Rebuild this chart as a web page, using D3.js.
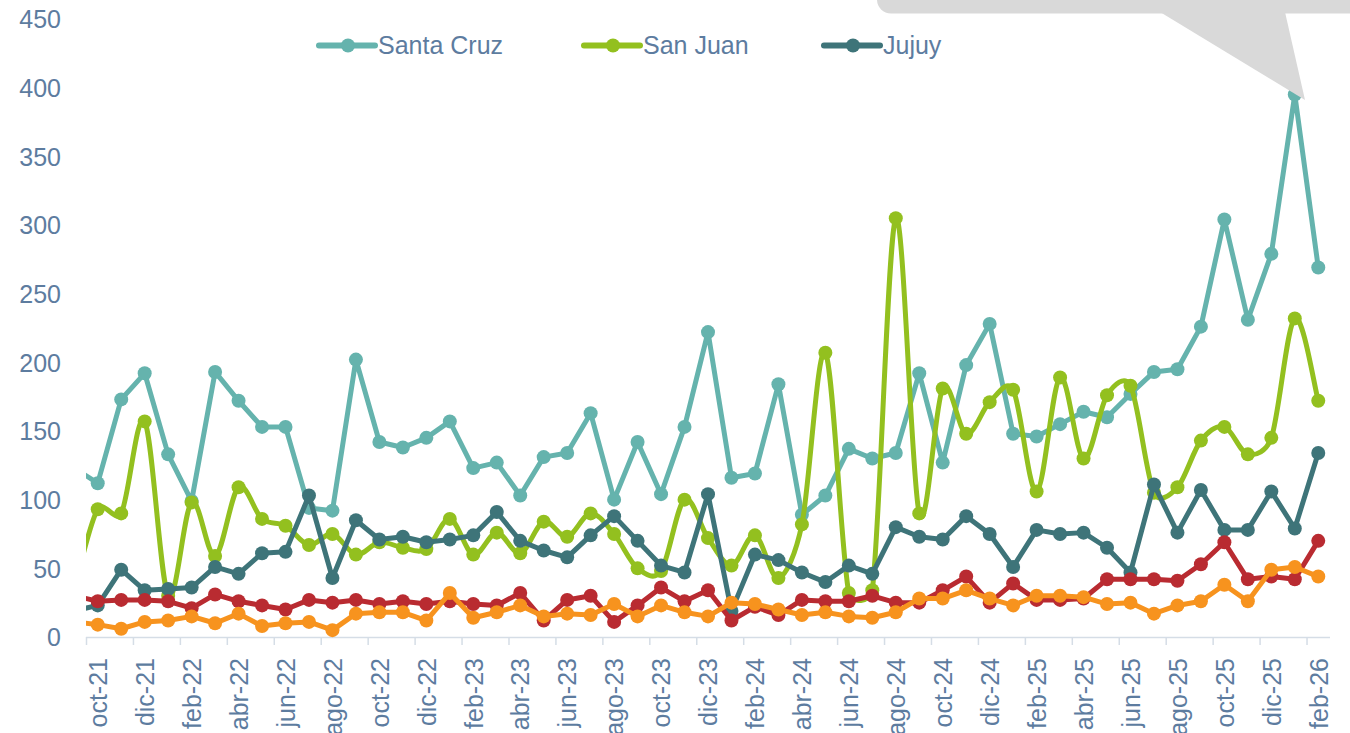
<!DOCTYPE html>
<html><head><meta charset="utf-8">
<script src="https://cdn.jsdelivr.net/npm/d3@7"></script>
<style>html,body{margin:0;padding:0;background:#fff;}svg{display:block;}</style>
</head><body>
<svg id="chart" width="1350" height="733"></svg>
<script>
// Months (first one, sep-21, lies just left of the visible axis and is clipped)
const meses = ["sep-21","oct-21","nov-21","dic-21",
 "ene-22","feb-22","mar-22","abr-22","may-22","jun-22","jul-22","ago-22","sep-22","oct-22","nov-22","dic-22",
 "ene-23","feb-23","mar-23","abr-23","may-23","jun-23","jul-23","ago-23","sep-23","oct-23","nov-23","dic-23",
 "ene-24","feb-24","mar-24","abr-24","may-24","jun-24","jul-24","ago-24","sep-24","oct-24","nov-24","dic-24",
 "ene-25","feb-25","mar-25","abr-25","may-25","jun-25","jul-25","ago-25","sep-25","oct-25","nov-25","dic-25",
 "ene-26","feb-26"];
const santaCruz = [123,112,173,192,
 133,99,193,172,153,153,94,92,202,142,138,145,
 157,123,127,103,131,134,163,100,142,104,153,222,
 116,119,184,89,103,137,130,134,192,127,198,228,
 148,146,155,164,160,177,193,195,226,304,231,279,
 395,269];
const sanJuan = [35,93,90,157,
 30,98,59,109,86,81,67,75,60,69,65,64,
 86,60,76,61,84,73,90,75,50,48,100,72,
 52,74,43,82,207,32,34,305,90,181,148,171,
 180,106,189,130,176,183,105,109,143,153,133,145,
 232,172];
const jujuy = [19,23,49,34,
 35,36,51,46,61,62,103,43,85,71,73,69,
 71,74,91,70,63,58,74,88,70,52,47,104,
 19,60,56,47,40,52,46,80,73,71,88,75,
 51,78,75,76,65,47,111,76,107,78,78,106,
 79,134];
const serieRoja = [30,26,27,27,
 26,21,31,26,23,20,27,25,27,24,26,24,
 26,24,23,32,12,27,30,11,23,36,26,34,
 12,22,16,27,26,26,30,25,25,34,44,25,
 39,27,27,28,42,42,42,41,53,69,42,44,
 42,70];
const serieNaranja = [11,9,6,11,
 12,15,10,17,8,10,11,5,17,18,18,12,
 32,14,18,23,15,17,16,24,15,23,18,15,
 25,24,20,16,18,15,14,18,28,28,34,28,
 23,30,30,29,24,25,17,23,26,38,26,49,
 51,44];
const yTicks = [0,50,100,150,200,250,300,350,400,450];
const legendNames = ["Santa Cruz","San Juan","Jujuy"];

const series = [
  {name:"Santa Cruz", values:santaCruz, color:"#65b3ad", smooth:false, legend:true},
  {name:"San Juan", values:sanJuan, color:"#93c01f", smooth:true, legend:true},
  {name:"Jujuy", values:jujuy, color:"#3e7479", smooth:false, legend:true},
  {name:"", values:serieRoja, color:"#b92b31", smooth:false, legend:false},
  {name:"", values:serieNaranja, color:"#f7931e", smooth:false, legend:false}
];

const textColor = "#5d7c9f";
const font = "'Liberation Sans', Arial, sans-serif";
const svg = d3.select("#chart");
svg.append("rect").attr("width",1350).attr("height",733).attr("fill","#fff");

// index -1 = sep-21, 0 = oct-21, ..., 52 = feb-26
const x = d3.scaleLinear().domain([-0.5, 52.5]).range([86, 1330]);
const y = d3.scaleLinear().domain([0, 450]).range([637, 19]);
const xi = i => x(i - 1);

// Excel-like smoothed Bezier (control points limited to half the segment length)
function smoothPath(pts) {
  const p = d3.path();
  const dist = (a,b) => Math.hypot(b[0]-a[0], b[1]-a[1]);
  p.moveTo(pts[0][0], pts[0][1]);
  for (let i = 0; i < pts.length - 1; i++) {
    const P0 = pts[Math.max(i-1,0)], P1 = pts[i], P2 = pts[i+1], P3 = pts[Math.min(i+2, pts.length-1)];
    const d12 = dist(P1,P2), d02 = dist(P0,P2), d13 = dist(P1,P3);
    const f1 = d02 > 0 ? Math.min(1/6, d12/(2*d02)) : 0;
    const f2 = d13 > 0 ? Math.min(1/6, d12/(2*d13)) : 0;
    p.bezierCurveTo(P1[0] + f1*(P2[0]-P0[0]), P1[1] + f1*(P2[1]-P0[1]),
                    P2[0] - f2*(P3[0]-P1[0]), P2[1] - f2*(P3[1]-P1[1]),
                    P2[0], P2[1]);
  }
  return p.toString();
}

// Y labels
const yAxis = d3.axisLeft(y).tickValues(yTicks).tickSize(0).tickPadding(0);
const gy = svg.append("g").attr("transform","translate(61,0)").call(yAxis);
gy.select(".domain").remove();
gy.selectAll("text").attr("fill",textColor).style("font-family",font).style("font-size","25px").attr("dy","0.35em");

// X axis line + boundary ticks
const boundaries = d3.range(0, 27).map(k => -0.5 + 2*k);
const xTickAxis = d3.axisBottom(x).tickValues(boundaries).tickSize(8).tickFormat("");
const gxt = svg.append("g").attr("transform","translate(0,637)").call(xTickAxis);
gxt.select(".domain").attr("stroke","#d5dde6").attr("stroke-width",1.5).attr("d","M86,0.5H1330");
gxt.selectAll(".tick line").attr("stroke","#d5dde6").attr("stroke-width",1.5);

// X labels every two months starting oct-21
const labelIdx = d3.range(0, 53, 2);
const xLabAxis = d3.axisBottom(x).tickValues(labelIdx).tickSize(0).tickFormat(i => meses[i+1]);
const gxl = svg.append("g").attr("transform","translate(0,637)").call(xLabAxis);
gxl.select(".domain").remove();
gxl.selectAll("text")
  .attr("fill",textColor).style("font-family",font).style("font-size","25px")
  .attr("text-anchor","end").attr("transform","translate(0,21) rotate(-90)")
  .attr("x",0).attr("y",0).attr("dy","0.35em");

// clip
svg.append("defs").append("clipPath").attr("id","plotclip")
  .append("rect").attr("x",86).attr("y",0).attr("width",1264).attr("height",733);

const plot = svg.append("g").attr("clip-path","url(#plotclip)");
series.forEach(s => {
  const pts = s.values.map((d,i) => [xi(i), y(d)]);
  const dStr = s.smooth ? smoothPath(pts) : d3.line()(pts);
  const g = plot.append("g");
  g.append("path").attr("d",dStr).attr("fill","none")
    .attr("stroke",s.color).attr("stroke-width",5).attr("stroke-linejoin","round").attr("stroke-linecap","round");
  g.selectAll("circle").data(s.values).join("circle")
    .attr("cx",(d,i)=>xi(i)).attr("cy",d=>y(d)).attr("r",7).attr("fill",s.color);
});

// Legend
const legendX = [319, 584, 824];
const ly = 45.5;
series.filter(s=>s.legend).forEach((s,k) => {
  const lx = legendX[k];
  const g = svg.append("g");
  g.append("line").attr("x1",lx).attr("x2",lx+56).attr("y1",ly).attr("y2",ly)
    .attr("stroke",s.color).attr("stroke-width",6).attr("stroke-linecap","round");
  g.append("circle").attr("cx",lx+29).attr("cy",ly).attr("r",7).attr("fill",s.color);
  g.append("text").attr("x",lx+59).attr("y",ly).attr("dy","0.35em")
    .attr("fill",textColor).style("font-family",font).style("font-size","25px").text(s.name);
});

// Callout (cut off at the top)
const callout = svg.append("g");
callout.append("rect").attr("x",877).attr("y",-40).attr("width",490).attr("height",53.5).attr("rx",14).attr("fill","#d9d9d9");
callout.append("path").attr("d","M1160,12 L1305,100 L1285,12 Z").attr("fill","#d9d9d9");
</script>
</body></html>
